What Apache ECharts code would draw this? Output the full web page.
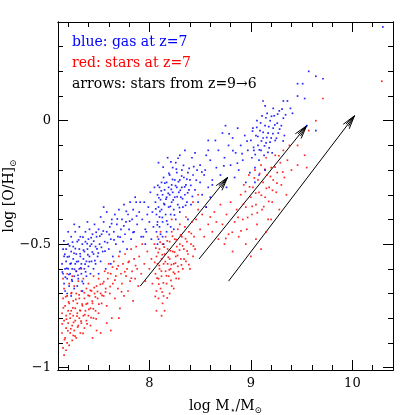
<!DOCTYPE html>
<html>
<head>
<meta charset="utf-8">
<script src="https://cdn.jsdelivr.net/npm/echarts@6/dist/echarts.min.js"></script>
<style>
    html, body { margin: 0; padding: 0; background: #fff; }
    #main { width: 415px; height: 415px; }
</style>
</head>
<body>
<div id="main"></div>
<script>
// gas metallicity at z=7 (log M*, log [O/H])
const gasPoints = [
    [7.14,-0.58],[7.15,-0.62],[7.16,-0.55],[7.16,-0.66],[7.17,-0.6],[7.17,-0.69],[7.18,-0.52],[7.18,-0.57],[7.19,-0.64],[7.2,-0.6],
    [7.2,-0.5],[7.21,-0.67],[7.21,-0.55],[7.22,-0.62],[7.22,-0.58],[7.23,-0.47],[7.23,-0.53],[7.24,-0.65],[7.24,-0.6],[7.25,-0.56],
    [7.25,-0.51],[7.26,-0.63],[7.26,-0.68],[7.27,-0.58],[7.27,-0.45],[7.28,-0.54],[7.28,-0.61],[7.29,-0.49],[7.3,-0.57],[7.3,-0.64],
    [7.31,-0.52],[7.31,-0.6],[7.32,-0.47],[7.32,-0.55],[7.33,-0.62],[7.33,-0.58],[7.34,-0.5],[7.35,-0.56],[7.35,-0.66],[7.36,-0.53],
    [7.36,-0.6],[7.37,-0.45],[7.37,-0.49],[7.38,-0.57],[7.38,-0.63],[7.39,-0.52],[7.4,-0.48],[7.4,-0.59],[7.41,-0.55],[7.41,-0.44],
    [7.42,-0.62],[7.43,-0.5],[7.43,-0.57],[7.44,-0.46],[7.45,-0.54],[7.45,-0.6],[7.46,-0.42],[7.47,-0.51],[7.47,-0.58],[7.48,-0.47],
    [7.49,-0.55],[7.5,-0.44],[7.5,-0.62],[7.51,-0.5],[7.52,-0.57],[7.53,-0.46],[7.54,-0.53],[7.55,-0.41],[7.56,-0.49],[7.57,-0.6],
    [7.58,-0.45],[7.15,-0.52],[7.19,-0.7],[7.23,-0.71],[7.29,-0.67],[7.34,-0.69],[7.2,-0.45],[7.26,-0.42],[7.31,-0.43],[7.39,-0.41],
    [7.58,-0.37],[7.6,-0.52],[7.61,-0.43],[7.62,-0.48],[7.63,-0.4],[7.64,-0.55],[7.65,-0.45],[7.66,-0.38],[7.67,-0.5],[7.68,-0.42],
    [7.69,-0.47],[7.7,-0.36],[7.71,-0.53],[7.72,-0.44],[7.73,-0.4],[7.74,-0.49],[7.75,-0.34],[7.76,-0.46],[7.77,-0.41],[7.78,-0.52],
    [7.79,-0.38],[7.8,-0.44],[7.81,-0.33],[7.82,-0.48],[7.83,-0.4],[7.84,-0.36],[7.85,-0.45],[7.86,-0.31],[7.87,-0.33],[7.88,-0.42],
    [7.9,-0.37],[7.91,-0.33],[7.92,-0.47],[7.93,-0.4],[7.95,-0.33],[7.96,-0.44],[7.98,-0.38],[7.55,-0.35],[7.52,-0.39],[7.62,-0.58],
    [7.143,-0.613],[7.158,-0.487],[7.167,-0.541],[7.172,-0.634],[7.186,-0.598],[7.193,-0.552],[7.207,-0.623],[7.214,-0.507],[7.229,-0.578],[7.236,-0.644],
    [7.243,-0.492],[7.258,-0.537],[7.262,-0.602],[7.271,-0.518],[7.284,-0.571],[7.297,-0.626],[7.303,-0.483],[7.318,-0.539],[7.324,-0.596],[7.339,-0.651],
    [7.346,-0.472],[7.351,-0.524],[7.367,-0.581],[7.372,-0.612],[7.388,-0.498],[7.394,-0.543],[7.409,-0.571],[7.416,-0.508],[7.427,-0.474],[7.438,-0.532],
    [7.452,-0.488],[7.463,-0.567],[7.476,-0.452],[7.484,-0.519],[7.497,-0.536],[7.512,-0.468],[7.528,-0.513],[7.546,-0.447],[7.563,-0.528],[7.587,-0.494],
    [7.605,-0.461],[7.628,-0.417],[7.652,-0.483],[7.684,-0.398],[7.712,-0.472],[7.748,-0.426],[7.773,-0.367],[7.806,-0.407],[7.839,-0.452],[7.874,-0.386],
    [8.06,-0.33],[8.07,-0.38],[8.07,-0.45],[8.08,-0.3],[8.08,-0.41],[8.09,-0.35],[8.09,-0.48],[8.1,-0.27],[8.1,-0.39],[8.1,-0.43],
    [8.11,-0.32],[8.11,-0.46],[8.12,-0.36],[8.12,-0.25],[8.13,-0.41],[8.13,-0.3],[8.14,-0.23],[8.15,-0.34],[8.15,-0.28],[8.16,-0.38],
    [8.17,-0.25],[8.17,-0.31],[8.18,-0.42],[8.19,-0.27],[8.19,-0.35],[8.2,-0.22],[8.2,-0.3],[8.21,-0.38],[8.22,-0.26],[8.22,-0.33],
    [8.23,-0.19],[8.23,-0.29],[8.24,-0.36],[8.25,-0.24],[8.25,-0.31],[8.26,-0.4],[8.27,-0.27],[8.27,-0.21],[8.28,-0.34],[8.29,-0.29],
    [8.3,-0.24],[8.3,-0.37],[8.31,-0.31],[8.32,-0.2],[8.32,-0.27],[8.33,-0.35],[8.34,-0.23],[8.35,-0.3],[8.36,-0.26],[8.37,-0.33],
    [8.38,-0.21],[8.38,-0.4],[8.39,-0.28],[8.4,-0.24],[8.41,-0.34],[8.09,-0.17],[8.18,-0.15],[8.26,-0.17],[8.3,-0.14],[8.35,-0.12],
    [8.42,-0.15],[8.45,-0.13],[8.5,-0.18],[8.56,-0.14],[8.58,-0.12],[8.43,-0.22],[8.45,-0.28],[8.47,-0.2],[8.48,-0.33],[8.5,-0.25],
    [8.52,-0.3],[8.54,-0.22],[8.56,-0.35],[8.58,-0.27],[8.6,-0.31],[8.62,-0.24],[7.97,-0.45],[7.99,-0.35],[8.0,-0.41],[8.01,-0.29],
    [8.02,-0.48],[8.03,-0.37],[8.04,-0.43],[8.05,-0.27],[7.96,-0.5],[7.94,-0.47],[8.08,-0.5],[8.13,-0.47],[8.17,-0.45],[8.21,-0.43],
    [8.24,-0.44],[8.14,-0.5],
    [8.063,-0.357],[8.078,-0.422],[8.094,-0.312],[8.104,-0.367],[8.117,-0.284],[8.128,-0.392],[8.143,-0.336],[8.152,-0.253],[8.164,-0.318],[8.171,-0.406],
    [8.186,-0.294],[8.193,-0.213],[8.207,-0.347],[8.216,-0.278],[8.228,-0.238],[8.235,-0.321],[8.247,-0.382],[8.258,-0.263],[8.266,-0.196],[8.274,-0.308],
    [8.287,-0.247],[8.296,-0.352],[8.305,-0.282],[8.318,-0.224],[8.327,-0.316],[8.336,-0.181],[8.348,-0.268],[8.357,-0.343],[8.369,-0.237],[8.377,-0.292],
    [8.392,-0.193],[8.408,-0.262],[8.424,-0.307],[8.437,-0.186],[8.462,-0.241],[8.517,-0.208],[8.083,-0.262],[8.136,-0.188],[8.212,-0.167],[8.283,-0.152],
    [8.55,-0.2],[8.58,-0.08],[8.6,-0.16],[8.62,-0.26],[8.65,-0.08],[8.66,-0.19],[8.68,-0.12],[8.7,-0.22],[8.72,-0.05],[8.74,-0.15],
    [8.75,-0.02],[8.76,-0.27],[8.78,-0.1],[8.8,-0.18],[8.82,-0.07],[8.84,-0.23],[8.85,-0.13],[8.87,-0.03],[8.88,-0.2],[8.9,-0.1],
    [8.92,-0.16],[8.94,-0.06],[8.95,-0.25],[8.97,-0.12],[9.0,-0.08],[9.01,-0.15],[9.02,-0.03],[9.03,-0.12],[9.04,-0.19],[9.05,-0.06],
    [9.06,0.0],[9.07,-0.1],[9.08,-0.16],[9.09,-0.04],[9.1,-0.12],[9.11,0.02],[9.12,-0.07],[9.13,-0.14],[9.14,-0.02],[9.15,-0.09],
    [9.16,0.03],[9.17,-0.05],[9.18,-0.11],[9.19,0.0],[9.2,-0.07],[9.21,-0.13],[9.22,-0.03],[9.23,0.02],[9.24,-0.08],[9.26,-0.01],
    [9.27,-0.05],[9.28,0.04],[9.3,-0.02],[9.32,0.01],[9.33,-0.06],[9.08,-0.22],[9.14,-0.2],[9.04,-0.25],[8.99,-0.21],[9.14,0.06],
    [9.22,0.05],[9.32,0.08],[9.36,0.08],[9.39,0.05],[9.41,0.03],[9.12,0.08],
    [8.962,-0.083],[9.016,-0.042],[9.027,-0.108],[9.043,-0.137],[9.058,-0.027],[9.069,-0.064],[9.084,-0.118],[9.096,-0.009],[9.104,-0.082],[9.121,-0.047],
    [9.134,-0.102],[9.148,0.012],[9.156,-0.068],[9.168,-0.128],[9.176,-0.024],[9.189,-0.087],[9.203,0.018],[9.217,-0.052],[9.236,-0.017],[9.252,-0.071],
    [9.264,0.027],[9.283,-0.034],[9.307,0.047],[9.318,-0.082],[9.342,0.024],[8.913,-0.133],[8.867,-0.172],[8.823,-0.121],[8.786,-0.053],[8.734,-0.183],
    [9.46,0.15],[9.51,0.15],[9.46,0.1],[9.53,0.09],[9.57,0.2],[9.64,0.18],[9.71,0.17],[9.55,-0.02],[9.64,-0.04],[10.3,0.38]
];

// stellar metallicity at z=7
const starPoints = [
    [7.14,-0.78],[7.14,-0.86],[7.15,-0.72],[7.15,-0.92],[7.16,-0.81],[7.16,-0.68],[7.17,-0.75],[7.17,-0.88],[7.18,-0.79],[7.18,-0.84],
    [7.19,-0.71],[7.19,-0.9],[7.2,-0.77],[7.2,-0.82],[7.21,-0.66],[7.21,-0.74],[7.22,-0.86],[7.22,-0.8],[7.23,-0.7],[7.23,-0.77],
    [7.24,-0.83],[7.24,-0.89],[7.25,-0.73],[7.25,-0.79],[7.26,-0.67],[7.26,-0.85],[7.27,-0.76],[7.27,-0.81],[7.28,-0.7],[7.28,-0.88],
    [7.29,-0.78],[7.29,-0.74],[7.3,-0.83],[7.3,-0.65],[7.31,-0.8],[7.31,-0.72],[7.32,-0.77],[7.32,-0.86],[7.33,-0.69],[7.33,-0.82],
    [7.34,-0.75],[7.35,-0.79],[7.35,-0.64],[7.36,-0.72],[7.36,-0.84],[7.37,-0.77],[7.38,-0.68],[7.38,-0.81],[7.39,-0.74],[7.4,-0.79],
    [7.4,-0.66],[7.41,-0.71],[7.42,-0.83],[7.42,-0.76],[7.43,-0.69],[7.44,-0.74],[7.45,-0.8],[7.45,-0.63],[7.46,-0.7],[7.47,-0.77],
    [7.48,-0.67],[7.49,-0.72],[7.5,-0.64],[7.5,-0.78],[7.52,-0.7],[7.53,-0.74],[7.54,-0.66],[7.55,-0.71],[7.16,-0.95],[7.18,-0.93],
    [7.21,-0.91],[7.25,-0.87],[7.15,-0.64],[7.19,-0.62],[7.24,-0.63],[7.28,-0.61],[7.33,-0.6],
    [7.142,-0.823],[7.153,-0.758],[7.164,-0.887],[7.176,-0.713],[7.183,-0.804],[7.197,-0.851],[7.204,-0.734],[7.218,-0.782],[7.226,-0.843],[7.234,-0.697],
    [7.247,-0.758],[7.253,-0.817],[7.268,-0.873],[7.276,-0.724],[7.287,-0.792],[7.294,-0.836],[7.308,-0.706],[7.316,-0.768],[7.327,-0.812],[7.338,-0.743],
    [7.347,-0.862],[7.359,-0.697],[7.364,-0.786],[7.378,-0.743],[7.386,-0.823],[7.397,-0.708],[7.404,-0.764],[7.418,-0.687],[7.426,-0.798],[7.437,-0.731],
    [7.448,-0.762],[7.457,-0.676],[7.468,-0.714],[7.476,-0.803],[7.489,-0.692],[7.503,-0.743],[7.517,-0.663],[7.534,-0.708],[7.551,-0.652],[7.568,-0.694],
    [7.592,-0.617],[7.614,-0.672],[7.637,-0.593],[7.661,-0.646],[7.693,-0.588],[7.726,-0.693],[7.758,-0.612],[7.792,-0.574],[7.823,-0.638],[7.864,-0.587],
    [7.56,-0.61],[7.57,-0.68],[7.58,-0.75],[7.59,-0.64],[7.6,-0.58],[7.61,-0.7],[7.62,-0.62],[7.63,-0.8],[7.64,-0.66],[7.65,-0.57],
    [7.66,-0.72],[7.67,-0.63],[7.68,-0.6],[7.69,-0.68],[7.7,-0.55],[7.71,-0.76],[7.72,-0.62],[7.73,-0.66],[7.74,-0.58],[7.75,-0.71],
    [7.76,-0.54],[7.77,-0.63],[7.78,-0.6],[7.79,-0.69],[7.8,-0.57],[7.81,-0.65],[7.82,-0.52],[7.83,-0.61],[7.84,-0.73],[7.85,-0.56],
    [7.86,-0.64],[7.87,-0.51],[7.88,-0.6],[7.89,-0.67],[7.9,-0.55],[7.92,-0.62],[7.93,-0.5],[7.95,-0.58],[7.96,-0.65],[7.98,-0.53],
    [8.0,-0.6],[8.02,-0.56],[8.03,-0.66],[7.58,-0.82],[7.62,-0.85],[7.7,-0.8],[7.52,-0.86],[7.48,-0.85],[7.44,-0.88],
    [8.05,-0.5],[8.06,-0.62],[8.07,-0.55],[8.07,-0.69],[8.08,-0.47],[8.08,-0.58],[8.09,-0.64],[8.1,-0.52],[8.1,-0.6],[8.11,-0.68],
    [8.11,-0.45],[8.12,-0.56],[8.12,-0.63],[8.13,-0.5],[8.14,-0.58],[8.14,-0.71],[8.15,-0.54],[8.16,-0.61],[8.16,-0.47],[8.17,-0.66],
    [8.18,-0.52],[8.18,-0.58],[8.19,-0.63],[8.2,-0.49],[8.2,-0.56],[8.21,-0.6],[8.22,-0.45],[8.22,-0.67],[8.23,-0.53],[8.24,-0.58],
    [8.25,-0.48],[8.25,-0.62],[8.26,-0.55],[8.27,-0.51],[8.28,-0.59],[8.28,-0.44],[8.29,-0.64],[8.3,-0.5],[8.31,-0.56],[8.32,-0.47],
    [8.33,-0.6],[8.34,-0.52],[8.35,-0.43],[8.36,-0.57],[8.37,-0.49],[8.38,-0.54],[8.39,-0.45],[8.4,-0.6],[8.41,-0.5],[8.42,-0.41],
    [8.43,-0.55],[8.44,-0.47],[8.45,-0.52],[8.13,-0.74],[8.15,-0.77],[8.12,-0.79],[8.09,-0.72],[8.2,-0.7],[8.24,-0.68],[8.07,-0.77],
    [8.053,-0.574],[8.064,-0.516],[8.076,-0.638],[8.087,-0.534],[8.098,-0.587],[8.106,-0.492],[8.118,-0.609],[8.127,-0.543],[8.138,-0.657],[8.146,-0.512],
    [8.157,-0.571],[8.168,-0.628],[8.176,-0.487],[8.187,-0.553],[8.196,-0.604],[8.208,-0.527],[8.217,-0.583],[8.228,-0.468],[8.237,-0.614],[8.248,-0.532],
    [8.257,-0.577],[8.266,-0.482],[8.278,-0.546],[8.287,-0.612],[8.297,-0.524],[8.308,-0.463],[8.316,-0.584],[8.327,-0.507],[8.342,-0.561],[8.356,-0.478],
    [8.372,-0.528],[8.389,-0.583],[8.413,-0.457],[8.434,-0.508],[8.127,-0.694],[8.176,-0.718],[8.093,-0.662],[8.213,-0.647],[8.264,-0.639],[8.058,-0.712],
    [8.46,-0.4],[8.48,-0.36],[8.5,-0.44],[8.52,-0.38],[8.54,-0.47],[8.56,-0.35],[8.58,-0.42],[8.6,-0.39],[8.62,-0.45],[8.64,-0.37],
    [8.66,-0.41],[8.68,-0.48],[8.7,-0.34],[8.22,-0.4],[8.3,-0.42],[8.36,-0.39],[8.43,-0.33],[8.48,-0.3],
    [8.72,-0.42],[8.74,-0.5],[8.76,-0.38],[8.78,-0.46],[8.8,-0.33],[8.82,-0.53],[8.84,-0.41],[8.86,-0.36],[8.88,-0.47],[8.9,-0.3],
    [8.92,-0.4],[8.93,-0.26],[8.95,-0.35],[8.96,-0.44],[8.98,-0.22],[9.0,-0.31],[9.01,-0.38],[9.02,-0.27],[9.04,-0.2],[9.05,-0.34],
    [9.06,-0.42],[9.07,-0.24],[9.08,-0.29],[9.1,-0.18],[9.11,-0.36],[9.12,-0.25],[9.14,-0.31],[9.15,-0.15],[9.16,-0.22],[9.17,-0.4],
    [9.18,-0.27],[9.2,-0.19],[9.21,-0.33],[9.22,-0.24],[9.24,-0.14],[9.25,-0.29],[9.26,-0.21],[9.28,-0.36],[9.29,-0.17],[9.3,-0.26],
    [9.32,-0.12],[9.33,-0.23],[9.35,-0.3],[9.36,-0.16],[9.38,-0.1],[9.4,-0.2],[9.05,-0.48],[9.1,-0.52],[9.0,-0.55],[8.95,-0.5],
    [9.15,-0.45],[9.2,-0.4],
    [8.874,-0.392],[8.903,-0.446],[8.927,-0.338],[8.946,-0.287],[8.968,-0.392],[8.987,-0.268],[9.013,-0.347],[9.034,-0.232],[9.047,-0.293],[9.063,-0.373],
    [9.086,-0.214],[9.103,-0.302],[9.127,-0.348],[9.138,-0.197],[9.153,-0.274],[9.176,-0.327],[9.193,-0.226],[9.213,-0.282],[9.238,-0.188],[9.257,-0.253],
    [9.276,-0.142],[9.314,-0.208],[8.817,-0.452],[8.753,-0.477],
    [9.46,-0.18],[9.55,-0.19],[9.53,-0.14],[9.46,-0.1],[9.57,-0.04],[9.64,0.0],[9.71,0.09],[10.29,0.16]
];

// arrows: stars from z=9 to z=6
const arrowFrom = [[7.91, -0.67], [8.49, -0.56], [8.78, -0.65]];
const arrowTo = [[8.77, -0.23], [9.55, -0.02], [10.02, 0.02]];

const xMajorTicks = [8, 9, 10];
const xMinorTicks = [7.2, 7.4, 7.6, 7.8, 8.2, 8.4, 8.6, 8.8, 9.2, 9.4, 9.6, 9.8, 10.2];
const yMajorTicks = [-1, -0.5, 0];
const yMinorTicks = [-0.9, -0.8, -0.7, -0.6, -0.4, -0.3, -0.2, -0.1, 0.1, 0.2, 0.3];

const legendLines = ['blue: gas at z=7', 'red: stars at z=7', 'arrows: stars from z=9\u21926'];

(function () {
    "use strict";

    const FONT = 'DejaVu Serif';

    function makeAxis(pos, range, ticks, tickLen, withLabels) {
        return {
            type: 'value',
            position: pos,
            min: range[0],
            max: range[1],
            axisLine: { show: true, onZero: false, lineStyle: { color: '#000', width: 1 } },
            axisTick: { show: true, inside: true, length: tickLen, customValues: ticks, lineStyle: { color: '#000', width: 1 } },
            axisLabel: withLabels ? {
                show: true,
                customValues: ticks,
                color: '#000',
                fontFamily: FONT,
                fontSize: 13,
                margin: 7,
                formatter: function (v) {
                    return String(v).replace('-', '\u2212');
                }
            } : { show: false },
            splitLine: { show: false }
        };
    }

    function drawArrow(params, api) {
        let p0 = api.coord([api.value(0), api.value(1)]);
        let p1 = api.coord([api.value(2), api.value(3)]);
        let ang = Math.atan2(p1[1] - p0[1], p1[0] - p0[0]);
        let style = { stroke: '#000', lineWidth: 1 };
        let children = [{
            type: 'line',
            shape: { x1: p0[0], y1: p0[1], x2: p1[0], y2: p1[1] },
            style: style
        }];
        // open, hatched-looking head
        [0.27, 0.14, -0.14, -0.27].forEach(function (d) {
            let a = ang + Math.PI + d;
            let len = Math.abs(d) > 0.2 ? 14 : 12;
            children.push({
                type: 'line',
                shape: { x1: p1[0], y1: p1[1], x2: p1[0] + len * Math.cos(a), y2: p1[1] + len * Math.sin(a) },
                style: style
            });
        });
        return { type: 'group', children: children };
    }

    function init() {
        let myChart = echarts.init(document.getElementById('main'), null, { renderer: 'canvas' });
        let xRange = [7.1, 10.4];
        let yRange = [-1.01, 0.4];

        let xAxes = [
            makeAxis('bottom', xRange, xMajorTicks, 10, true),
            makeAxis('bottom', xRange, xMinorTicks, 5, false),
            makeAxis('top', xRange, xMajorTicks, 10, false),
            makeAxis('top', xRange, xMinorTicks, 5, false)
        ];
        xAxes[0].name = 'log M{s|\u22c6}/M{s|\u2299}';
        xAxes[0].nameLocation = 'middle';
        xAxes[0].nameGap = 28;
        xAxes[0].nameMoveOverlap = false;
        xAxes[0].nameTextStyle = {
            color: '#000', fontFamily: FONT, fontSize: 14,
            rich: { s: { fontSize: 9, fontFamily: FONT, color: '#000', padding: [8, 0, 0, 0] } }
        };

        let yAxes = [
            makeAxis('left', yRange, yMajorTicks, 10, true),
            makeAxis('left', yRange, yMinorTicks, 5, false),
            makeAxis('right', yRange, yMajorTicks, 10, false),
            makeAxis('right', yRange, yMinorTicks, 5, false)
        ];
        yAxes[0].name = 'log [O/H]{s|\u2299}';
        yAxes[0].nameLocation = 'middle';
        yAxes[0].nameGap = 40;
        yAxes[0].nameMoveOverlap = false;
        yAxes[0].nameTextStyle = {
            color: '#000', fontFamily: FONT, fontSize: 14,
            rich: { s: { fontSize: 9, fontFamily: FONT, color: '#000', padding: [8, 0, 0, 0] } }
        };

        let arrowData = arrowFrom.map(function (p, i) {
            return [p[0], p[1], arrowTo[i][0], arrowTo[i][1]];
        });

        let legendColors = ['#0000ff', '#ff0000', '#000'];
        let graphics = legendLines.map(function (txt, i) {
            return {
                type: 'text',
                left: 72,
                top: 35 + i * 21.3,
                style: { text: txt, fill: legendColors[i], font: '14px "' + FONT + '"' }
            };
        });

        let option = {
            animation: false,
            backgroundColor: '#fff',
            grid: { left: 58, right: 22, top: 22, bottom: 45, containLabel: false, outerBoundsMode: 'none' },
            xAxis: xAxes,
            yAxis: yAxes,
            graphic: graphics,
            series: [
                {
                    type: 'scatter',
                    data: starPoints,
                    symbol: 'rect',
                    symbolSize: 1.7,
                    itemStyle: { color: '#ff0000', opacity: 0.85 },
                    silent: true
                },
                {
                    type: 'scatter',
                    data: gasPoints,
                    symbol: 'rect',
                    symbolSize: 1.7,
                    itemStyle: { color: '#0000ff', opacity: 0.85 },
                    silent: true
                },
                {
                    type: 'custom',
                    renderItem: drawArrow,
                    data: arrowData,
                    encode: { x: [0, 2], y: [1, 3] },
                    clip: false,
                    silent: true
                }
            ]
        };
        myChart.setOption(option);
    }
    init();
})()
</script>
</body>
</html>
